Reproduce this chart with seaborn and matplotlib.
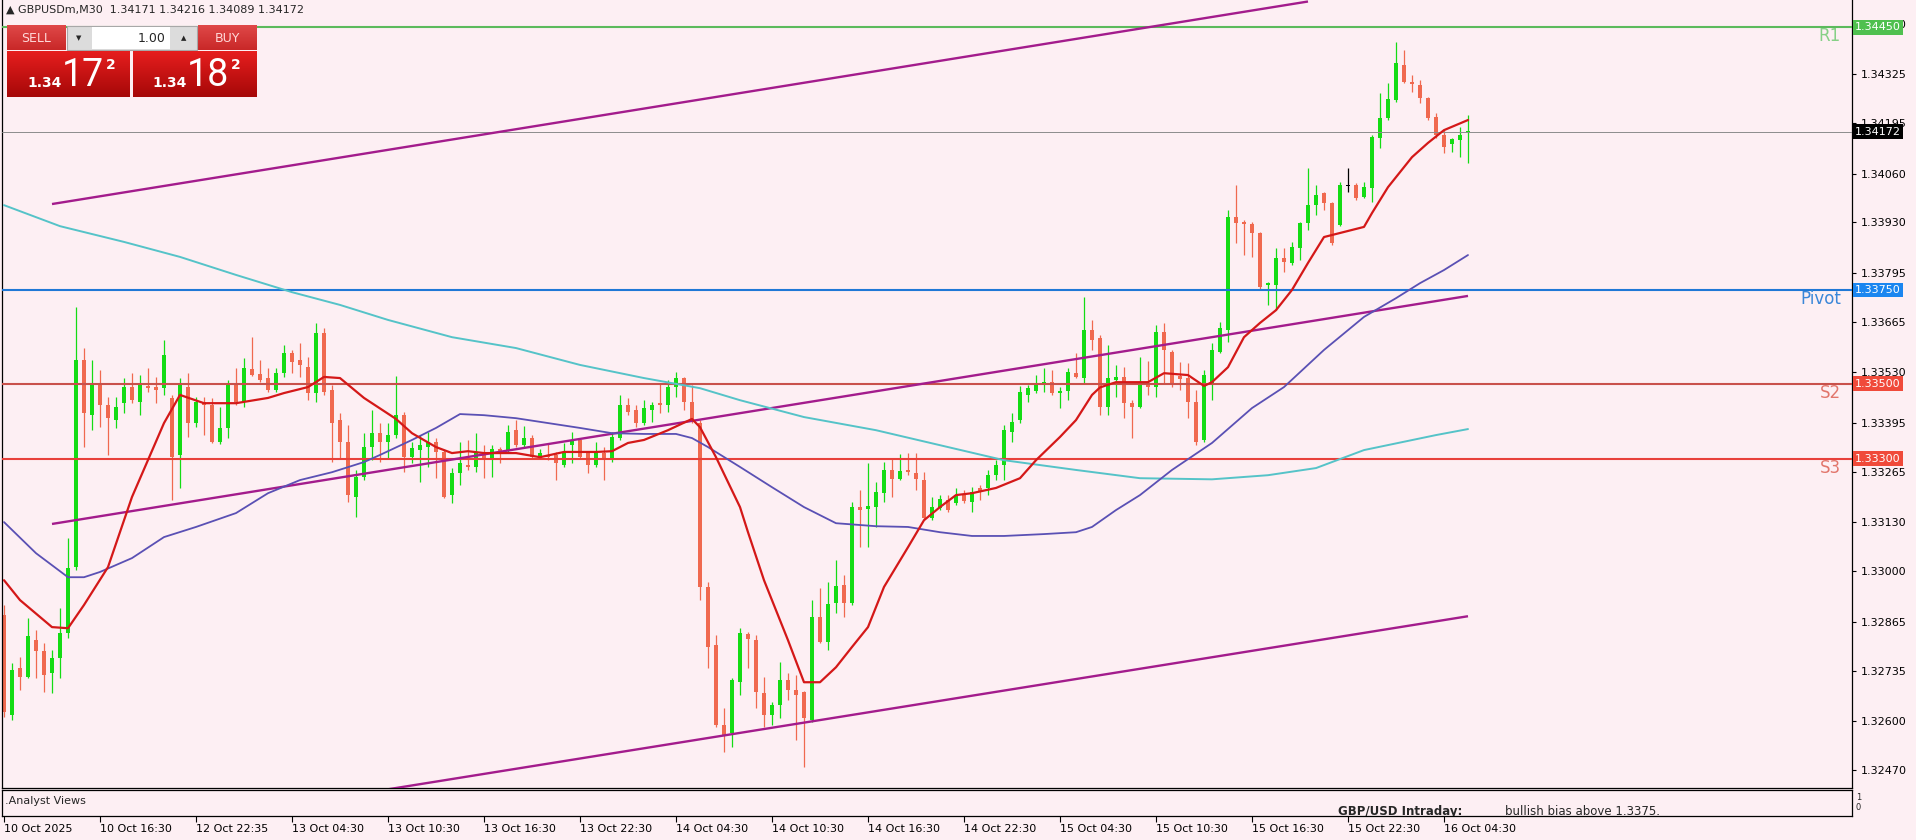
import numpy as np
import seaborn as sns
import matplotlib.pyplot as plt
import matplotlib.transforms as mtransforms
from matplotlib.colors import LinearSegmentedColormap
from matplotlib.patches import Rectangle

W, H = 1916, 840
BG = '#fdeff3'
BULL = '#14dc14'
BEAR = '#f0694f'

# GBPUSDm M30 candles, 10 Oct 10:30 -> 16 Oct 06:00
opens = [
    1.32883, 1.32616, 1.32742, 1.32718, 1.32816, 1.32787, 1.32728, 1.32768, 1.32835, 1.33011,
    1.33563, 1.33416, 1.33496, 1.33443, 1.33403, 1.33448, 1.33491, 1.33451, 1.33494, 1.33491,
    1.33488, 1.33462, 1.33310, 1.33491, 1.33395, 1.33451, 1.33443, 1.33344, 1.33382, 1.33502,
    1.33451, 1.33539, 1.33526, 1.33515, 1.33483, 1.33528, 1.33582, 1.33563, 1.33544, 1.33475,
    1.33635, 1.33483, 1.33403, 1.33344, 1.33198, 1.33251, 1.33331, 1.33368, 1.33344, 1.33363,
    1.33416, 1.33304, 1.33323, 1.33331, 1.33344, 1.33318, 1.33203, 1.33262, 1.33283, 1.33278,
    1.33315, 1.33302, 1.33326, 1.33323, 1.33376, 1.33336, 1.33355, 1.33304, 1.33310, 1.33310,
    1.33283, 1.33336, 1.33350, 1.33315, 1.33283, 1.33315, 1.33302, 1.33355, 1.33443, 1.33430,
    1.33395, 1.33430, 1.33448, 1.33443, 1.33491, 1.33515, 1.33451, 1.33395, 1.32958, 1.32803,
    1.32590, 1.32568, 1.32704, 1.32832, 1.32816, 1.32675, 1.32616, 1.32643, 1.32710, 1.32683,
    1.32678, 1.32603, 1.32878, 1.32811, 1.32915, 1.32963, 1.32915, 1.33171, 1.33166, 1.33171,
    1.33208, 1.33270, 1.33246, 1.33270, 1.33262, 1.33243, 1.33142, 1.33168, 1.33190, 1.33182,
    1.33203, 1.33184, 1.33222, 1.33222, 1.33256, 1.33283, 1.33371, 1.33403, 1.33470, 1.33480,
    1.33499, 1.33504, 1.33475, 1.33480, 1.33528, 1.33515, 1.33643, 1.33622, 1.33438, 1.33510,
    1.33518, 1.33448, 1.33438, 1.33502, 1.33491, 1.33638, 1.33584, 1.33520, 1.33515, 1.33451,
    1.33350, 1.33496, 1.33584, 1.33643, 1.33944, 1.33931, 1.33926, 1.33902, 1.33763, 1.33763,
    1.33835, 1.33822, 1.33862, 1.33928, 1.33976, 1.34008, 1.33982, 1.33923, 1.34027, 1.34030,
    1.33998, 1.34022, 1.34155, 1.34208, 1.34256, 1.34350, 1.34304, 1.34296, 1.34262, 1.34211,
    1.34163, 1.34139, 1.34150, 1.34171,
]
highs = [
    1.32910, 1.32755, 1.32771, 1.32875, 1.32843, 1.32808, 1.32790, 1.32902, 1.33088, 1.33704,
    1.33595, 1.33563, 1.33536, 1.33464, 1.33464, 1.33515, 1.33528, 1.33523, 1.33542, 1.33518,
    1.33616, 1.33470, 1.33515, 1.33528, 1.33464, 1.33464, 1.33462, 1.33438, 1.33510, 1.33542,
    1.33568, 1.33624, 1.33563, 1.33542, 1.33542, 1.33603, 1.33590, 1.33608, 1.33571, 1.33662,
    1.33648, 1.33496, 1.33422, 1.33390, 1.33270, 1.33368, 1.33430, 1.33395, 1.33395, 1.33520,
    1.33424, 1.33344, 1.33363, 1.33371, 1.33355, 1.33323, 1.33275, 1.33344, 1.33350, 1.33368,
    1.33336, 1.33336, 1.33331, 1.33390, 1.33403, 1.33387, 1.33363, 1.33326, 1.33342, 1.33318,
    1.33342, 1.33371, 1.33355, 1.33318, 1.33344, 1.33331, 1.33371, 1.33470, 1.33462, 1.33443,
    1.33456, 1.33451, 1.33502, 1.33510, 1.33531, 1.33518, 1.33496, 1.33403, 1.32971, 1.32830,
    1.32635, 1.32715, 1.32848, 1.32838, 1.32830, 1.32718, 1.32651, 1.32758, 1.32728, 1.32723,
    1.32680, 1.32923, 1.32955, 1.32971, 1.33030, 1.32990, 1.33184, 1.33216, 1.33288, 1.33238,
    1.33291, 1.33302, 1.33312, 1.33315, 1.33315, 1.33264, 1.33198, 1.33203, 1.33203, 1.33222,
    1.33216, 1.33224, 1.33230, 1.33270, 1.33296, 1.33390, 1.33422, 1.33494, 1.33496, 1.33523,
    1.33542, 1.33536, 1.33491, 1.33542, 1.33582, 1.33731, 1.33670, 1.33630, 1.33603, 1.33550,
    1.33544, 1.33456, 1.33571, 1.33560, 1.33656, 1.33662, 1.33590, 1.33558, 1.33555, 1.33483,
    1.33536, 1.33608, 1.33664, 1.33963, 1.34030, 1.33936, 1.33931, 1.33904, 1.33771, 1.33862,
    1.33862, 1.33878, 1.33931, 1.34075, 1.34030, 1.34011, 1.33984, 1.34038, 1.34075, 1.34035,
    1.34038, 1.34163, 1.34275, 1.34302, 1.34411, 1.34390, 1.34323, 1.34310, 1.34264, 1.34222,
    1.34176, 1.34155, 1.34184, 1.34216,
]
lows = [
    1.32611, 1.32603, 1.32683, 1.32715, 1.32715, 1.32678, 1.32675, 1.32715, 1.32822, 1.33003,
    1.33331, 1.33376, 1.33384, 1.33310, 1.33382, 1.33422, 1.33448, 1.33416, 1.33478, 1.33448,
    1.33470, 1.33190, 1.33222, 1.33358, 1.33384, 1.33363, 1.33342, 1.33338, 1.33355, 1.33443,
    1.33438, 1.33520, 1.33504, 1.33478, 1.33478, 1.33518, 1.33528, 1.33518, 1.33456, 1.33451,
    1.33470, 1.33291, 1.33302, 1.33184, 1.33144, 1.33243, 1.33296, 1.33291, 1.33302, 1.33355,
    1.33264, 1.33288, 1.33238, 1.33278, 1.33248, 1.33195, 1.33182, 1.33230, 1.33270, 1.33264,
    1.33248, 1.33251, 1.33288, 1.33315, 1.33331, 1.33331, 1.33300, 1.33302, 1.33296, 1.33243,
    1.33278, 1.33288, 1.33302, 1.33262, 1.33278, 1.33243, 1.33291, 1.33350, 1.33416, 1.33384,
    1.33390, 1.33398, 1.33422, 1.33424, 1.33464, 1.33430, 1.33395, 1.32923, 1.32742, 1.32584,
    1.32518, 1.32531, 1.32670, 1.32742, 1.32635, 1.32584, 1.32590, 1.32608, 1.32656, 1.32550,
    1.32478, 1.32598, 1.32808, 1.32790, 1.32888, 1.32878, 1.32910, 1.33064, 1.33064, 1.33118,
    1.33184, 1.33198, 1.33243, 1.33256, 1.33216, 1.33136, 1.33136, 1.33163, 1.33158, 1.33176,
    1.33182, 1.33158, 1.33190, 1.33203, 1.33243, 1.33243, 1.33344, 1.33395, 1.33451, 1.33475,
    1.33478, 1.33470, 1.33435, 1.33456, 1.33515, 1.33502, 1.33590, 1.33416, 1.33416, 1.33464,
    1.33408, 1.33355, 1.33435, 1.33470, 1.33464, 1.33502, 1.33491, 1.33483, 1.33408, 1.33336,
    1.33344, 1.33456, 1.33582, 1.33611, 1.33875, 1.33843, 1.33838, 1.33750, 1.33710, 1.33696,
    1.33798, 1.33816, 1.33830, 1.33910, 1.33950, 1.33963, 1.33870, 1.33920, 1.34011, 1.33990,
    1.33995, 1.33984, 1.34128, 1.34203, 1.34251, 1.34302, 1.34278, 1.34248, 1.34203, 1.34155,
    1.34115, 1.34118, 1.34104, 1.34089,
]
closes = [
    1.32624, 1.32736, 1.32718, 1.32827, 1.32787, 1.32723, 1.32768, 1.32835, 1.33008, 1.33563,
    1.33422, 1.33502, 1.33443, 1.33408, 1.33438, 1.33491, 1.33456, 1.33496, 1.33488, 1.33483,
    1.33576, 1.33304, 1.33496, 1.33395, 1.33451, 1.33443, 1.33344, 1.33382, 1.33502, 1.33451,
    1.33542, 1.33523, 1.33510, 1.33483, 1.33528, 1.33582, 1.33558, 1.33550, 1.33475, 1.33635,
    1.33478, 1.33395, 1.33344, 1.33203, 1.33251, 1.33331, 1.33368, 1.33344, 1.33363, 1.33416,
    1.33304, 1.33328, 1.33336, 1.33344, 1.33318, 1.33198, 1.33262, 1.33288, 1.33278, 1.33318,
    1.33302, 1.33326, 1.33315, 1.33371, 1.33336, 1.33355, 1.33304, 1.33315, 1.33304, 1.33288,
    1.33315, 1.33350, 1.33304, 1.33283, 1.33315, 1.33302, 1.33358, 1.33443, 1.33424, 1.33395,
    1.33435, 1.33443, 1.33443, 1.33491, 1.33515, 1.33451, 1.33403, 1.32958, 1.32798, 1.32590,
    1.32563, 1.32710, 1.32835, 1.32819, 1.32678, 1.32616, 1.32643, 1.32710, 1.32683, 1.32670,
    1.32608, 1.32878, 1.32811, 1.32912, 1.32960, 1.32915, 1.33171, 1.33163, 1.33174, 1.33211,
    1.33270, 1.33246, 1.33267, 1.33264, 1.33246, 1.33142, 1.33171, 1.33192, 1.33163, 1.33203,
    1.33187, 1.33211, 1.33211, 1.33256, 1.33283, 1.33376, 1.33398, 1.33478, 1.33488, 1.33499,
    1.33504, 1.33475, 1.33480, 1.33531, 1.33518, 1.33643, 1.33616, 1.33438, 1.33515, 1.33518,
    1.33448, 1.33438, 1.33502, 1.33491, 1.33638, 1.33590, 1.33496, 1.33512, 1.33451, 1.33344,
    1.33523, 1.33590, 1.33648, 1.33944, 1.33928, 1.33926, 1.33902, 1.33758, 1.33768, 1.33835,
    1.33824, 1.33864, 1.33928, 1.33976, 1.34003, 1.33982, 1.33875, 1.34030, 1.34027, 1.33995,
    1.34024, 1.34158, 1.34208, 1.34259, 1.34355, 1.34304, 1.34299, 1.34262, 1.34208, 1.34163,
    1.34131, 1.34152, 1.34163, 1.34172,
]

# moving averages at these bar numbers
fast_ma_bar = [0, 2, 6, 8, 10, 13, 16, 20, 22, 25, 29, 33, 35, 38, 40, 42, 45, 49, 51, 54,
               56, 58, 60, 64, 67, 70, 74, 76, 78, 80, 83, 86, 87, 89, 92, 93, 95, 98, 100, 102,
               104, 106, 108, 110, 113, 115, 117, 119, 121, 124, 127, 129, 132, 134, 136, 137, 139, 143, 145, 148,
               150, 151, 153, 155, 157, 159, 161, 163, 165, 170, 171, 173, 176, 178, 180, 183]
fast_ma = [1.32976, 1.32923, 1.32851, 1.32848, 1.32910, 1.33011, 1.33198, 1.33395, 1.33470, 1.33448,
           1.33448, 1.33462, 1.33475, 1.33491, 1.33518, 1.33515, 1.33462, 1.33406, 1.33368, 1.33331,
           1.33315, 1.33320, 1.33315, 1.33315, 1.33304, 1.33318, 1.33318, 1.33320, 1.33342, 1.33350,
           1.33376, 1.33406, 1.33384, 1.33304, 1.33171, 1.33104, 1.32976, 1.32816, 1.32704, 1.32704,
           1.32744, 1.32798, 1.32851, 1.32958, 1.33064, 1.33136, 1.33171, 1.33203, 1.33208, 1.33222,
           1.33248, 1.33296, 1.33358, 1.33403, 1.33470, 1.33490, 1.33504, 1.33504, 1.33528, 1.33523,
           1.33494, 1.33504, 1.33544, 1.33624, 1.33662, 1.33696, 1.33750, 1.33822, 1.33891, 1.33918,
           1.33955, 1.34024, 1.34104, 1.34142, 1.34176, 1.34203]

mid_ma_bar = [0, 4, 8, 10, 12, 16, 20, 24, 29, 33, 37, 41, 45, 47, 51, 54, 57, 60, 64, 68,
              72, 76, 80, 84, 86, 88, 92, 96, 100, 104, 109, 113, 117, 121, 125, 130, 134, 136, 139, 142,
              146, 151, 156, 160, 165, 170, 174, 177, 180, 183]
mid_ma = [1.33131, 1.33048, 1.32984, 1.32984, 1.32998, 1.33035, 1.33091, 1.33118, 1.33155, 1.33208,
          1.33243, 1.33264, 1.33291, 1.33310, 1.33350, 1.33382, 1.33419, 1.33416, 1.33408, 1.33395,
          1.33382, 1.33368, 1.33366, 1.33366, 1.33355, 1.33331, 1.33278, 1.33224, 1.33171, 1.33128,
          1.33120, 1.33118, 1.33104, 1.33094, 1.33094, 1.33099, 1.33104, 1.33118, 1.33163, 1.33203,
          1.33270, 1.33342, 1.33435, 1.33491, 1.33590, 1.33678, 1.33728, 1.33768, 1.33803, 1.33843]

slow_ma_bar = [0, 7, 15, 22, 29, 36, 42, 48, 56, 64, 72, 80, 87, 92, 100, 109, 117, 125, 134, 142,
               151, 158, 164, 170, 179, 183]
slow_ma = [1.33976, 1.33920, 1.33878, 1.33838, 1.33790, 1.33744, 1.33710, 1.33670, 1.33624, 1.33595,
           1.33550, 1.33515, 1.33488, 1.33456, 1.33411, 1.33376, 1.33336, 1.33296, 1.33270, 1.33248,
           1.33245, 1.33256, 1.33275, 1.33323, 1.33363, 1.33379]

# channel trend lines (bar, price) end points
channel_bars = [[6, 163], [6, 183], [6, 183]]
channel_prices = [[1.33979, 1.34519], [1.33126, 1.33734], [1.32275, 1.32880]]

level_names = ['R1', 'Pivot', 'S2', 'S3']
level_values = [1.34450, 1.33750, 1.33500, 1.33300]
level_colors = ['#5cba5c', '#1f78d6', '#c9514b', '#e8403a']
level_text_colors = ['#86d086', '#3a86d8', '#e2766c', '#e2766c']
level_box_colors = ['#4fc04f', '#1b86f0', '#f04a3a', '#f04a3a']

bid = 1.34172
price_ticks = [1.32470, 1.32600, 1.32735, 1.32865, 1.33000, 1.33130, 1.33265, 1.33395,
               1.33530, 1.33665, 1.33795, 1.33930, 1.34060, 1.34195, 1.34325, 1.34460]
time_labels = ['10 Oct 2025', '10 Oct 16:30', '12 Oct 22:35', '13 Oct 04:30', '13 Oct 10:30',
               '13 Oct 16:30', '13 Oct 22:30', '14 Oct 04:30', '14 Oct 10:30', '14 Oct 16:30',
               '14 Oct 22:30', '15 Oct 04:30', '15 Oct 10:30', '15 Oct 16:30', '15 Oct 22:30',
               '16 Oct 04:30']
label_step = 12


def px_box(x0, y0, x1, y1):
    return [x0 / W, 1 - y1 / H, (x1 - x0) / W, (y1 - y0) / H]


def draw_candles(ax):
    o, h, l, c = (np.array(v) for v in (opens, highs, lows, closes))
    idx = np.arange(len(o))
    col = np.where(c > o, BULL, np.where(c < o, BEAR, 'black'))
    ax.vlines(idx, l, h, colors=col, lw=0.9, zorder=2)
    body = np.maximum(np.abs(c - o), 0.00003)
    ax.bar(idx, body, bottom=np.minimum(o, c), width=0.62, color=col, lw=0, zorder=2.1)


def draw_main(ax):
    draw_candles(ax)
    sns.lineplot(x=slow_ma_bar, y=slow_ma, ax=ax, color='#55c3c8', lw=1.4, zorder=4)
    sns.lineplot(x=mid_ma_bar, y=mid_ma, ax=ax, color='#5a50b4', lw=1.3, zorder=4)
    sns.lineplot(x=fast_ma_bar, y=fast_ma, ax=ax, color='#d41818', lw=1.6, zorder=4.2)
    for xs, ys in zip(channel_bars, channel_prices):
        ax.plot(xs, ys, color='#a31c8c', lw=1.7, zorder=3.5, solid_capstyle='butt')

    ax.axhline(bid, color='#8c8c8c', lw=0.7, zorder=3)
    for name, val, lc, tc in zip(level_names, level_values, level_colors, level_text_colors):
        ax.axhline(val, color=lc, lw=1.5, zorder=3)
        ax.annotate(name, xy=(229.6, val), xytext=(0, 0), textcoords='offset points',
                    ha='right', va='top', fontsize=12, color=tc, zorder=5)

    ax.set_xlim(-0.25, 231)
    ax.set_ylim(1.32422, 1.34523)
    ax.set_xticks([])
    ax.yaxis.tick_right()
    ax.set_yticks(price_ticks)
    ax.set_yticklabels([f'{p:.5f}' for p in price_ticks])
    ax.tick_params(axis='y', right=True, left=False, labelright=True, labelleft=False,
                   length=3, width=0.8, pad=3, labelsize=8, colors='black')
    ax.spines['top'].set_visible(False)
    for s in ('left', 'right', 'bottom'):
        ax.spines[s].set_linewidth(0.9)

    # coloured price boxes on the right scale
    trans = mtransforms.blended_transform_factory(ax.transAxes, ax.transData)
    boxes = list(zip(level_values, level_box_colors)) + [(bid, 'black')]
    for val, fc in boxes:
        ax.text(1.0016, val, f'{val:.5f}', transform=trans, ha='left', va='center',
                fontsize=8, color='white', clip_on=False, zorder=6,
                bbox=dict(boxstyle='square,pad=0.2', fc=fc, ec='none'))


def draw_sub(sub, ov):
    sub.set_xlim(-0.25, 231)
    sub.set_ylim(0, 1)
    sub.set_yticks([])
    ticks = list(range(0, label_step * len(time_labels), label_step))
    sub.set_xticks(ticks)
    sub.set_xticklabels(time_labels, ha='left')
    sub.tick_params(axis='x', bottom=True, length=4, width=0.8, pad=2, labelsize=8, colors='black')
    for s in sub.spines.values():
        s.set_linewidth(0.9)

    ov.text(5, 801, '.Analyst Views', fontsize=8, va='center', ha='left')
    t1 = ov.text(1338, 815, 'GBP/USD Intraday:', fontsize=8.5, fontweight='bold', va='baseline')
    t2 = ov.text(1505, 815, 'bullish bias above 1.3375.', fontsize=8.5, va='baseline')
    for t in (t1, t2):
        t.set_clip_box(sub.bbox)
        t.set_clip_on(True)
    ov.text(1856, 797, '1', fontsize=6, va='center')
    ov.text(1856, 808, '0', fontsize=6, va='center')


def gradient_rect(ov, x0, y0, x1, y1, top, bottom):
    cmap = LinearSegmentedColormap.from_list('g', [top, bottom])
    grad = np.linspace(0, 1, 64).reshape(-1, 1)
    ov.imshow(grad, extent=(x0, x1, y1, y0), origin='upper', cmap=cmap, aspect='auto', zorder=2)


def draw_trade_panel(ov):
    ov.text(6, 10, '\u25b2 GBPUSDm,M30  1.34171 1.34216 1.34089 1.34172',
            fontsize=8, va='center', ha='left')
    # sell / buy headers
    gradient_rect(ov, 7, 25, 66, 50, '#e04848', '#c82828')
    gradient_rect(ov, 198, 25, 257, 50, '#e04848', '#c82828')
    # lot size control
    ov.add_patch(Rectangle((67, 26), 130, 24, fc='#dcdcdc', ec='#a8a8a8', lw=0.8, zorder=2))
    ov.add_patch(Rectangle((92, 27), 78, 22, fc='white', ec='none', zorder=3))
    ov.text(79, 38, '\u25bc', fontsize=5, ha='center', va='center', zorder=4)
    ov.text(184, 38, '\u25b2', fontsize=5, ha='center', va='center', zorder=4)
    ov.text(166, 38, '1.00', fontsize=9, ha='right', va='center', zorder=4)
    ov.text(36, 38, 'SELL', fontsize=9, color='#ffd8d8', ha='center', va='center', zorder=4)
    ov.text(227, 38, 'BUY', fontsize=9, color='#ffd8d8', ha='center', va='center', zorder=4)
    # price tiles
    gradient_rect(ov, 7, 51, 130, 97, '#e61e1e', '#a60808')
    gradient_rect(ov, 133, 51, 257, 97, '#e61e1e', '#a60808')
    for x0, big in ((27, '17'), (152, '18')):
        ov.text(x0, 83, '1.34', fontsize=10, fontweight='bold', color='white', va='center', zorder=4)
        ov.text(x0 + 35, 76, big, fontsize=27, color='white', va='center',
                family=['Roboto', 'DejaVu Sans'], zorder=4)
        ov.text(x0 + 79, 65, '2', fontsize=10, fontweight='bold', color='white',
                va='center', zorder=4)


def main():
    sns.set_style('white', {'axes.facecolor': BG, 'figure.facecolor': BG,
                            'axes.edgecolor': 'black'})
    plt.rcParams['font.family'] = ['DejaVu Sans']

    fig = plt.figure(figsize=(W / 100, H / 100), dpi=100)
    ax = fig.add_axes(px_box(2, 0, 1852, 788))
    sub = fig.add_axes(px_box(2, 790, 1852, 816))
    ov = fig.add_axes([0, 0, 1, 1], zorder=10)
    ov.set_xlim(0, W)
    ov.set_ylim(H, 0)
    ov.axis('off')
    ov.patch.set_visible(False)

    draw_main(ax)
    draw_sub(sub, ov)
    draw_trade_panel(ov)

    fig.savefig('out.png', dpi=100, facecolor=BG)
    plt.close(fig)


if __name__ == '__main__':
    main()
